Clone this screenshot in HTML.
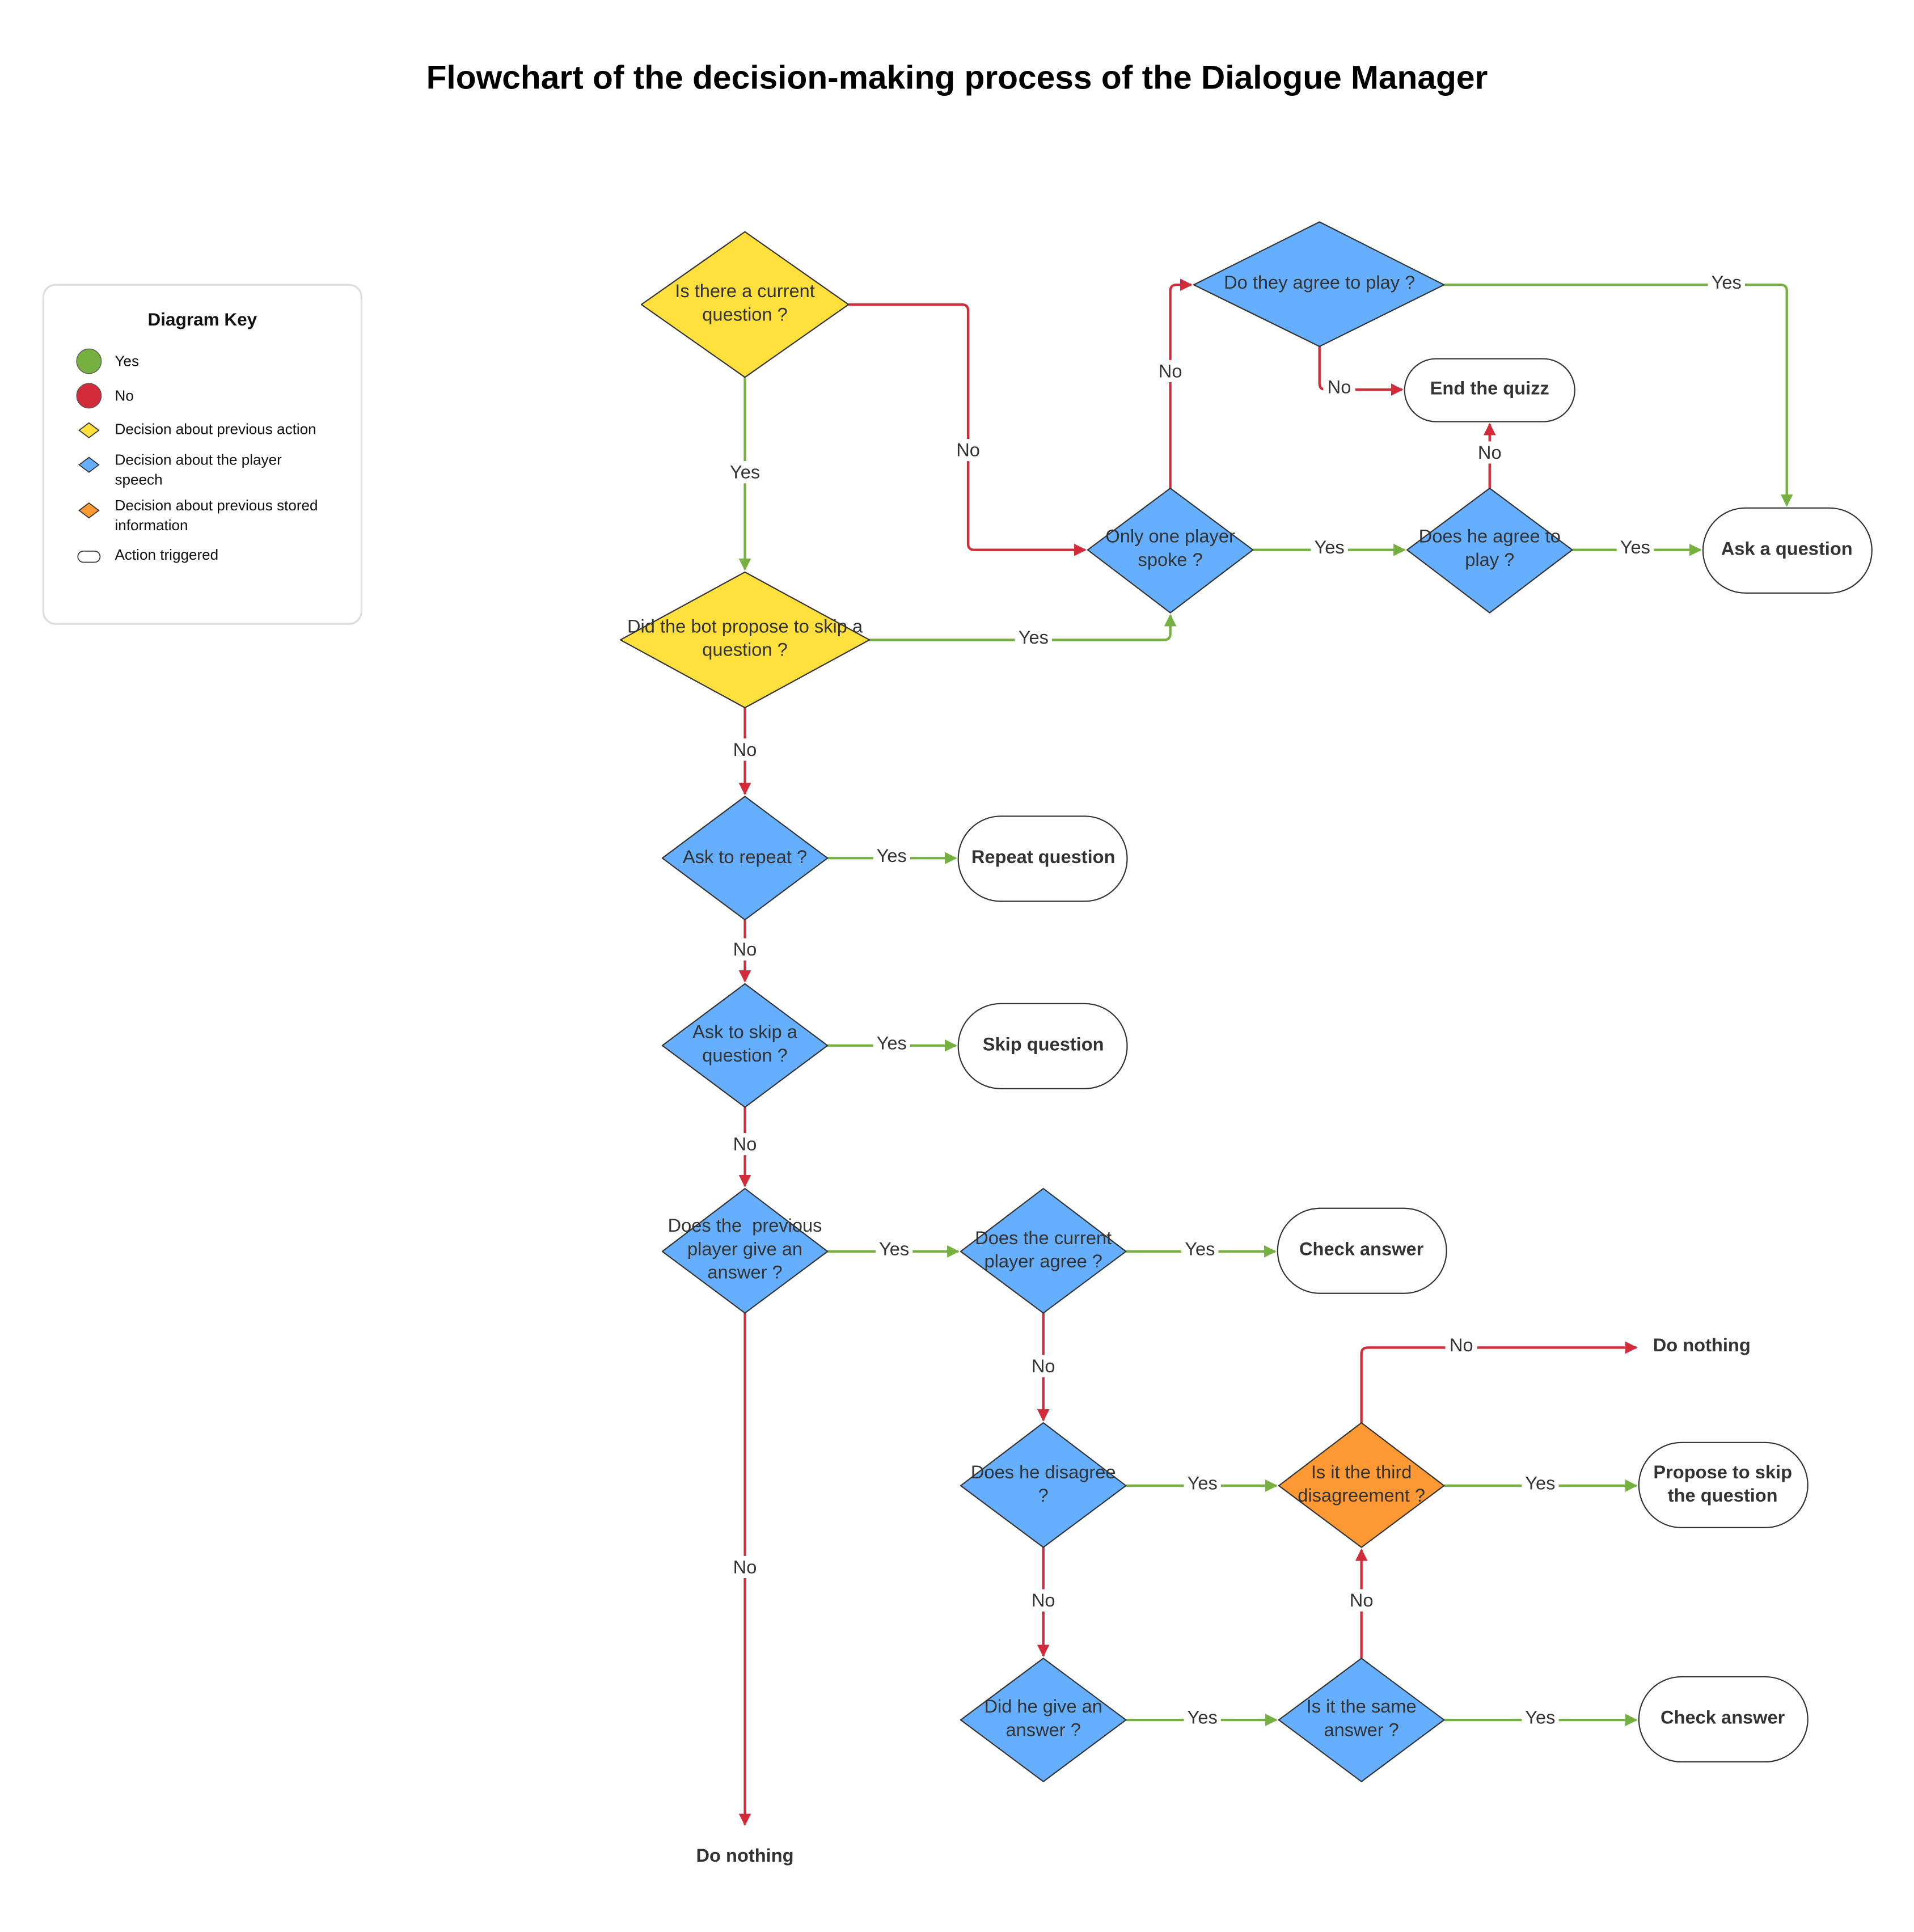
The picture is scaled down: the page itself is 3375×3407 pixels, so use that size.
<!DOCTYPE html>
<html><head><meta charset="utf-8"><style>
html,body{margin:0;padding:0;background:#fff}
svg{display:block}
text{font-family:"Liberation Sans",Arial,sans-serif}
</style></head><body>
<svg width="3375" height="3407" viewBox="0 0 1552 1567" xmlns="http://www.w3.org/2000/svg">
<defs>
<marker id="ag" markerWidth="10" markerHeight="10" refX="9" refY="5" orient="auto" markerUnits="userSpaceOnUse"><path d="M0,0 L10,5 L0,10 Z" fill="#76B041"/></marker>
<marker id="ar" markerWidth="10" markerHeight="10" refX="9" refY="5" orient="auto" markerUnits="userSpaceOnUse"><path d="M0,0 L10,5 L0,10 Z" fill="#D22B3A"/></marker>
</defs>
<text x="776" y="72" text-anchor="middle" font-size="27" font-weight="bold" fill="#000">Flowchart of the decision-making process of the Dialogue Manager</text>

<!-- legend -->
<rect x="35" y="231" width="258" height="275" rx="10" fill="#fff" stroke="#ddd" stroke-width="1.5"/>
<text x="164" y="264" text-anchor="middle" font-size="14.5" font-weight="bold" fill="#111">Diagram Key</text>
<circle cx="72" cy="293" r="10" fill="#76B041" stroke="#555" stroke-width="0.6"/>
<circle cx="72" cy="321" r="10" fill="#D22B3A" stroke="#555" stroke-width="0.6"/>
<polygon points="64,349 72,343 80,349 72,355" fill="#FFE03D" stroke="#333" stroke-width="0.8"/>
<polygon points="64,377 72,371 80,377 72,383" fill="#66AFFF" stroke="#333" stroke-width="0.8"/>
<polygon points="64,414 72,408 80,414 72,420" fill="#FF9933" stroke="#333" stroke-width="0.8"/>
<rect x="63" y="447" width="18" height="9" rx="4.5" fill="#fff" stroke="#333" stroke-width="0.8"/>
<g font-size="12" fill="#111">
<text x="93" y="297">Yes</text>
<text x="93" y="325">No</text>
<text x="93" y="352">Decision about previous action</text>
<text x="93" y="377">Decision about the player</text>
<text x="93" y="393">speech</text>
<text x="93" y="414">Decision about previous stored</text>
<text x="93" y="430">information</text>
<text x="93" y="454">Action triggered</text>
</g>

<!-- connectors -->
<g fill="none" stroke-width="2">
<path d="M688,247 H780 Q785,247 785,252 V441 Q785,446 790,446 H880" stroke="#D22B3A" marker-end="url(#ar)"/>
<path d="M604,306 V462" stroke="#76B041" marker-end="url(#ag)"/>
<path d="M705,519 H944 Q949,519 949,514 V499" stroke="#76B041" marker-end="url(#ag)"/>
<path d="M604,574 V644" stroke="#D22B3A" marker-end="url(#ar)"/>
<path d="M949,396 V236 Q949,231 954,231 H966" stroke="#D22B3A" marker-end="url(#ar)"/>
<path d="M1016,446 H1139" stroke="#76B041" marker-end="url(#ag)"/>
<path d="M1171,231 H1444 Q1449,231 1449,236 V410" stroke="#76B041" marker-end="url(#ag)"/>
<path d="M1070,281 V311 Q1070,316 1075,316 H1137" stroke="#D22B3A" marker-end="url(#ar)"/>
<path d="M1208,396 V344" stroke="#D22B3A" marker-end="url(#ar)"/>
<path d="M1275,446 H1379" stroke="#76B041" marker-end="url(#ag)"/>
<path d="M671,696 H775" stroke="#76B041" marker-end="url(#ag)"/>
<path d="M604,746 V796" stroke="#D22B3A" marker-end="url(#ar)"/>
<path d="M671,848 H775" stroke="#76B041" marker-end="url(#ag)"/>
<path d="M604,898 V962" stroke="#D22B3A" marker-end="url(#ar)"/>
<path d="M671,1015 H777" stroke="#76B041" marker-end="url(#ag)"/>
<path d="M604,1065 V1480" stroke="#D22B3A" marker-end="url(#ar)"/>
<path d="M913,1015 H1034" stroke="#76B041" marker-end="url(#ag)"/>
<path d="M846,1065 V1152" stroke="#D22B3A" marker-end="url(#ar)"/>
<path d="M913,1205 H1035" stroke="#76B041" marker-end="url(#ag)"/>
<path d="M846,1255 V1343" stroke="#D22B3A" marker-end="url(#ar)"/>
<path d="M1104,1154 V1098 Q1104,1093 1109,1093 H1327" stroke="#D22B3A" marker-end="url(#ar)"/>
<path d="M1171,1205 H1327" stroke="#76B041" marker-end="url(#ag)"/>
<path d="M913,1395 H1035" stroke="#76B041" marker-end="url(#ag)"/>
<path d="M1104,1345 V1257" stroke="#D22B3A" marker-end="url(#ar)"/>
<path d="M1171,1395 H1327" stroke="#76B041" marker-end="url(#ag)"/>
</g>

<!-- edge labels -->
<g font-size="15" fill="#333" text-anchor="middle">
<rect x="772" y="356" width="26" height="18" fill="#fff"/><text x="785" y="370">No</text>
<rect x="589" y="374" width="30" height="18" fill="#fff"/><text x="604" y="388">Yes</text>
<rect x="823" y="508" width="30" height="18" fill="#fff"/><text x="838" y="522">Yes</text>
<rect x="591" y="599" width="26" height="18" fill="#fff"/><text x="604" y="613">No</text>
<rect x="936" y="292" width="26" height="18" fill="#fff"/><text x="949" y="306">No</text>
<rect x="1063" y="435" width="30" height="18" fill="#fff"/><text x="1078" y="449">Yes</text>
<rect x="1385" y="220" width="30" height="18" fill="#fff"/><text x="1400" y="234">Yes</text>
<rect x="1073" y="305" width="26" height="18" fill="#fff"/><text x="1086" y="319">No</text>
<rect x="1195" y="358" width="26" height="18" fill="#fff"/><text x="1208" y="372">No</text>
<rect x="1311" y="435" width="30" height="18" fill="#fff"/><text x="1326" y="449">Yes</text>
<rect x="708" y="685" width="30" height="18" fill="#fff"/><text x="723" y="699">Yes</text>
<rect x="591" y="761" width="26" height="18" fill="#fff"/><text x="604" y="775">No</text>
<rect x="708" y="837" width="30" height="18" fill="#fff"/><text x="723" y="851">Yes</text>
<rect x="591" y="919" width="26" height="18" fill="#fff"/><text x="604" y="933">No</text>
<rect x="710" y="1004" width="30" height="18" fill="#fff"/><text x="725" y="1018">Yes</text>
<rect x="591" y="1262" width="26" height="18" fill="#fff"/><text x="604" y="1276">No</text>
<rect x="958" y="1004" width="30" height="18" fill="#fff"/><text x="973" y="1018">Yes</text>
<rect x="833" y="1099" width="26" height="18" fill="#fff"/><text x="846" y="1113">No</text>
<rect x="960" y="1194" width="30" height="18" fill="#fff"/><text x="975" y="1208">Yes</text>
<rect x="833" y="1289" width="26" height="18" fill="#fff"/><text x="846" y="1303">No</text>
<rect x="1172" y="1082" width="26" height="18" fill="#fff"/><text x="1185" y="1096">No</text>
<rect x="1234" y="1194" width="30" height="18" fill="#fff"/><text x="1249" y="1208">Yes</text>
<rect x="960" y="1384" width="30" height="18" fill="#fff"/><text x="975" y="1398">Yes</text>
<rect x="1091" y="1289" width="26" height="18" fill="#fff"/><text x="1104" y="1303">No</text>
<rect x="1234" y="1384" width="30" height="18" fill="#fff"/><text x="1249" y="1398">Yes</text>
</g>

<!-- diamonds -->
<g stroke="#333" stroke-width="1" stroke-linejoin="round">
<polygon points="520,247 604,188 688,247 604,306" fill="#FFE03D"/>
<polygon points="503,519 604,464 705,519 604,574" fill="#FFE03D"/>
<polygon points="882,446 949,396 1016,446 949,497" fill="#66AFFF"/>
<polygon points="968,231 1070,180 1171,231 1070,281" fill="#66AFFF"/>
<polygon points="1141,446 1208,396 1275,446 1208,497" fill="#66AFFF"/>
<polygon points="537,696 604,646 671,696 604,746" fill="#66AFFF"/>
<polygon points="537,848 604,798 671,848 604,898" fill="#66AFFF"/>
<polygon points="537,1015 604,964 671,1015 604,1065" fill="#66AFFF"/>
<polygon points="779,1015 846,964 913,1015 846,1065" fill="#66AFFF"/>
<polygon points="779,1205 846,1154 913,1205 846,1255" fill="#66AFFF"/>
<polygon points="1037,1205 1104,1154 1171,1205 1104,1255" fill="#FF9933"/>
<polygon points="779,1395 846,1345 913,1395 846,1445" fill="#66AFFF"/>
<polygon points="1037,1395 1104,1345 1171,1395 1104,1445" fill="#66AFFF"/>
</g>
<g font-size="15" fill="#333" text-anchor="middle">
<text x="604" y="241">Is there a current</text><text x="604" y="260">question ?</text>
<text x="604" y="513">Did the bot propose to skip a</text><text x="604" y="532">question ?</text>
<text x="949" y="440">Only one player</text><text x="949" y="459">spoke ?</text>
<text x="1070" y="234">Do they agree to play ?</text>
<text x="1208" y="440">Does he agree to</text><text x="1208" y="459">play ?</text>
<text x="604" y="700">Ask to repeat ?</text>
<text x="604" y="842">Ask to skip a</text><text x="604" y="861">question ?</text>
<text x="604" y="999" xml:space="preserve">Does the  previous</text><text x="604" y="1018">player give an</text><text x="604" y="1037">answer ?</text>
<text x="846" y="1009">Does the current</text><text x="846" y="1028">player agree ?</text>
<text x="846" y="1199">Does he disagree</text><text x="846" y="1218">?</text>
<text x="1104" y="1199">Is it the third</text><text x="1104" y="1218">disagreement ?</text>
<text x="846" y="1389">Did he give an</text><text x="846" y="1408">answer ?</text>
<text x="1104" y="1389">Is it the same</text><text x="1104" y="1408">answer ?</text>
</g>

<!-- terminals -->
<g fill="#fff" stroke="#333" stroke-width="1">
<rect x="1139" y="291" width="138" height="51" rx="25.5"/>
<rect x="1381" y="412" width="137" height="69" rx="34.5"/>
<rect x="777" y="662" width="137" height="69" rx="34.5"/>
<rect x="777" y="814" width="137" height="69" rx="34.5"/>
<rect x="1036" y="980" width="137" height="69" rx="34.5"/>
<rect x="1329" y="1170" width="137" height="69" rx="34.5"/>
<rect x="1329" y="1360" width="137" height="69" rx="34.5"/>
</g>
<g font-size="15" font-weight="bold" fill="#333" text-anchor="middle">
<text x="1208" y="320">End the quizz</text>
<text x="1449" y="450">Ask a question</text>
<text x="846" y="700">Repeat question</text>
<text x="846" y="852">Skip question</text>
<text x="1104" y="1018">Check answer</text>
<text x="1397" y="1199">Propose to skip</text><text x="1397" y="1218">the question</text>
<text x="1397" y="1398">Check answer</text>
<text x="1380" y="1096">Do nothing</text>
<text x="604" y="1510">Do nothing</text>
</g>
</svg>
</body></html>
